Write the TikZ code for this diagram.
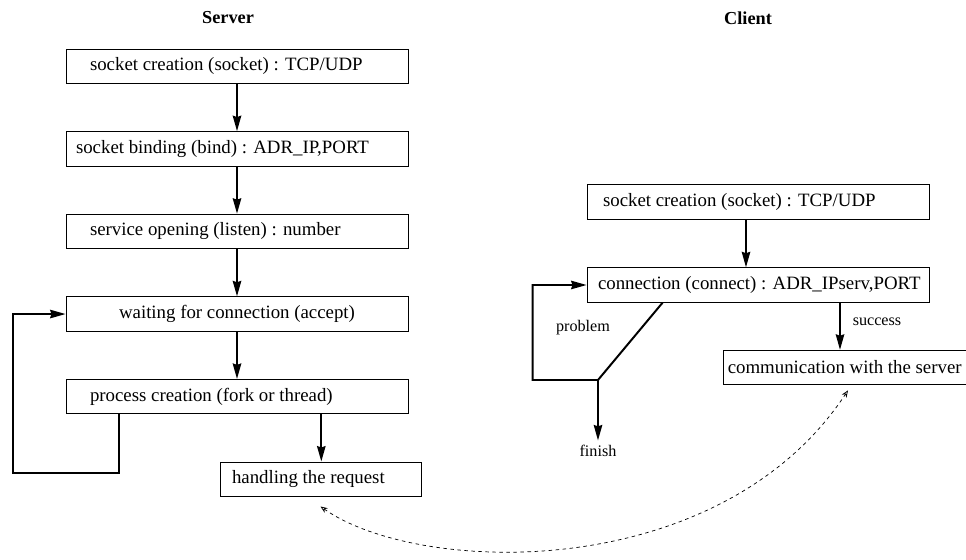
\documentclass[tikz,border=0pt]{standalone}
\usepackage{fontspec}
\setmainfont{Liberation Serif}
\usetikzlibrary{arrows.meta}
\tikzstyle{box}=[draw, line width=.6pt, minimum height=.8625cm, inner sep=0pt]
\tikzstyle{flow}=[line width=1.4pt, -{Stealth[length=11pt, width=6pt, inset=1pt]}]
\tikzstyle{link}=[line width=.5pt, dash pattern=on 2.5pt off 2.5pt,
                  {Stealth[open, length=5pt, width=4pt]}-{Stealth[open, length=5pt, width=4pt]}]
\tikzstyle{lbl}=[font=\fontsize{11.5}{13}\selectfont]
\tikzstyle{ttl}=[font=\fontsize{13}{15}\selectfont\bfseries]
\newcommand{\boxtxt}[3][8.55cm]{\makebox[#1][l]{\hspace*{#2}#3}}

\begin{document}
\begin{tikzpicture}[font=\fontsize{13.4}{16}\selectfont]
      \useasboundingbox (0,0) rectangle (24.15,14);

      \node[ttl] (ts) at (5.7,13.55) {Server};
      \node[ttl] (tc) at (18.7,13.55) {Client};

      % server side
      \node[box] (s1) at (5.925,12.344) {\boxtxt{.6cm}{socket creation (socket) : TCP/UDP}};
      \node[box] (s2) at (5.925,10.279) {\boxtxt{.25cm}{socket binding (bind) : ADR\_IP,PORT}};
      \node[box] (s3) at (5.925,8.214) {\boxtxt{.6cm}{service opening (listen) : number}};
      \node[box] (s4) at (5.925,6.149) {\makebox[8.55cm]{waiting for connection (accept)}};
      \node[box] (s5) at (5.925,4.084) {\boxtxt{.6cm}{process creation (fork or thread)}};
      \node[box] (hr) at (8.0125,2.019) {\boxtxt[5.025cm]{.3cm}{handling the request}};

      % client side
      \node[box] (c1) at (18.95,8.95) {\boxtxt{.4cm}{socket creation (socket) : TCP/UDP}};
      \node[box] (c2) at (18.95,6.875) {\boxtxt{.275cm}{connection (connect) : ADR\_IPserv,PORT}};
      \node[box] (c3) at (22.35,4.8125) {\boxtxt{.12cm}{communication with the server}};

      \node[lbl] (prob) at (14.575,5.8) {problem};
      \node[lbl] (suc) at (21.925,5.95) {success};
      \node[lbl] (fin) at (14.95,2.72) {finish};
      \coordinate (jn) at (14.95,4.5);

      \draw[flow] (s1) -- (s2);
      \draw[flow] (s2) -- (s3);
      \draw[flow] (s3) -- (s4);
      \draw[flow] (s4) -- (s5);
      \draw[flow] ([xshift=.02cm]s5.south -| hr.north) -- ([xshift=.02cm]hr.north);
      \draw[flow] ([xshift=1.325cm]s5.south west) -- ++(0,-1.478)
                  -| ([xshift=-1.325cm]s4.west) -- (s4.west);

      \draw[flow] ([xshift=-.3cm]c1.south) -- ([xshift=-.3cm]c2.north);
      \draw[flow] ([xshift=1.9cm]c2.south west) -- (jn)
                  -| ([xshift=-1.35cm]c2.west) -- (c2.west);
      \draw[flow] (jn) -- (fin.north);
      \draw[flow] ([xshift=2.05cm]c2.south) -- ([xshift=2.05cm]c2.south |- c3.north);

      \coordinate (la) at ([yshift=-.24cm]hr.south);
      \coordinate (ra) at ([xshift=-1.15cm,yshift=-.13cm]c3.south);
      \draw[link] (la) .. controls (10.5,-0.4) and (18,-0.6) .. (ra);
    \end{tikzpicture}
\end{document}
